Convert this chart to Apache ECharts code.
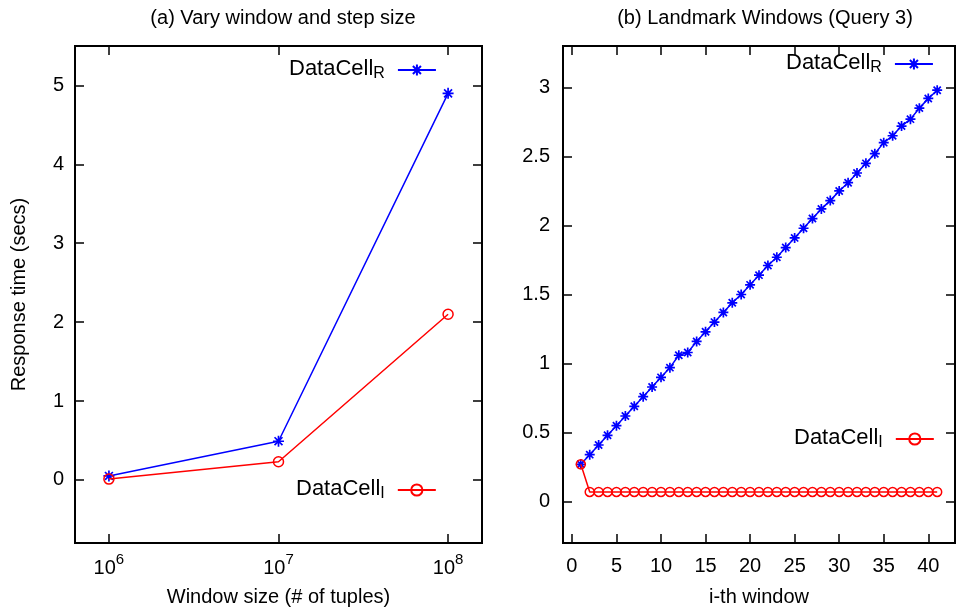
<!DOCTYPE html>
<html>
<head>
<meta charset="utf-8">
<script src="https://cdn.jsdelivr.net/npm/echarts@6/dist/echarts.min.js"></script>
<style>
  html, body { margin: 0; padding: 0; background: #fff; }
  #chart { width: 961px; height: 613px; }
</style>
</head>
<body>
<div id="chart"></div>
<script>
// (a) response time against window size
var windowSizes = [1e6, 1e7, 1e8];
var sizeR = [0.05, 0.49, 4.9];
var sizeI = [0.01, 0.23, 2.1];

// (b) landmark windows, query 3
var windowIdx = [1, 2, 3, 4, 5, 6, 7, 8, 9, 10, 11, 12, 13, 14, 15, 16, 17, 18, 19, 20,
                 21, 22, 23, 24, 25, 26, 27, 28, 29, 30, 31, 32, 33, 34, 35, 36, 37, 38, 39, 40, 41];
var landR = [0.27, 0.34, 0.41, 0.48, 0.55, 0.62, 0.69, 0.76, 0.83, 0.90,
             0.97, 1.06, 1.08, 1.16, 1.23, 1.30, 1.37, 1.44, 1.50, 1.57,
             1.64, 1.71, 1.77, 1.84, 1.91, 1.98, 2.05, 2.12, 2.18, 2.25,
             2.31, 2.38, 2.45, 2.52, 2.60, 2.65, 2.72, 2.77, 2.85, 2.92, 2.98];
var landI = [0.27, 0.07, 0.07, 0.07, 0.07, 0.07, 0.07, 0.07, 0.07, 0.07,
             0.07, 0.07, 0.07, 0.07, 0.07, 0.07, 0.07, 0.07, 0.07, 0.07,
             0.07, 0.07, 0.07, 0.07, 0.07, 0.07, 0.07, 0.07, 0.07, 0.07,
             0.07, 0.07, 0.07, 0.07, 0.07, 0.07, 0.07, 0.07, 0.07, 0.07, 0.07];

// tick labels
var yTicksA = [0, 1, 2, 3, 4, 5];
var xTicksB = [0, 5, 10, 15, 20, 25, 30, 35, 40];
var yTicksB = [0, 0.5, 1, 1.5, 2, 2.5, 3];

var FONT = 'Liberation Sans, Arial, Helvetica, sans-serif';
var BLUE = '#0000ff';
var RED = '#ff0000';
var STAR = 'path://M0,-1L0,1M-1,0L1,0M-0.72,-0.72L0.72,0.72M-0.72,0.72L0.72,-0.72';

function pair(xs, ys) {
  return xs.map(function (x, i) { return [x, ys[i]]; });
}

var tick = { show: true, inside: true, length: 9, lineStyle: { color: '#000', width: 1.5 } };
var line = { show: true, onZero: false, lineStyle: { color: '#000', width: 2 } };
var labelStyle = { color: '#000', fontFamily: FONT, fontSize: 20 };

function mirror(base) {
  return Object.assign({}, base, {
    axisLabel: { show: false },
    name: ''
  });
}

var logMin = Math.pow(10, 5.8), logMax = Math.pow(10, 8.2);

var xA = {
  type: 'log', gridIndex: 0, position: 'bottom', logBase: 10,
  min: logMin, max: logMax,
  axisLine: line, splitLine: { show: false }, minorTick: { show: false },
  axisTick: tick,
  axisLabel: Object.assign({}, labelStyle, {
    margin: 9,
    formatter: function (v) {
      var e = Math.log10(v);
      if (Math.abs(e - Math.round(e)) > 1e-6) return '';
      return '{b|10}{p|' + Math.round(e) + '}';
    },
    rich: {
      b: { fontFamily: FONT, fontSize: 20, lineHeight: 26, verticalAlign: 'bottom', color: '#000' },
      p: { fontFamily: FONT, fontSize: 15, lineHeight: 10, verticalAlign: 'top', color: '#000' }
    }
  }),
  name: 'Window size (# of tuples)', nameLocation: 'middle', nameGap: 44,
  nameTextStyle: { color: '#000', fontFamily: FONT, fontSize: 20 }
};
var yA = {
  type: 'value', gridIndex: 0, position: 'left', min: -0.8, max: 5.5,
  axisLine: line, splitLine: { show: false },
  axisTick: Object.assign({}, tick, { customValues: yTicksA }),
  axisLabel: Object.assign({}, labelStyle, { margin: 11, customValues: yTicksA }),
  name: 'Response time (secs)', nameLocation: 'middle', nameGap: 46, nameRotate: 90,
  nameTextStyle: { color: '#000', fontFamily: FONT, fontSize: 20 }
};
var xB = {
  type: 'value', gridIndex: 1, position: 'bottom', min: -1, max: 43,
  axisLine: line, splitLine: { show: false },
  axisTick: Object.assign({}, tick, { customValues: xTicksB }),
  axisLabel: Object.assign({}, labelStyle, { margin: 13, customValues: xTicksB }),
  name: 'i-th window', nameLocation: 'middle', nameGap: 44,
  nameTextStyle: { color: '#000', fontFamily: FONT, fontSize: 20 }
};
var yB = {
  type: 'value', gridIndex: 1, position: 'left', min: -0.3, max: 3.3,
  axisLine: line, splitLine: { show: false },
  axisTick: Object.assign({}, tick, { customValues: yTicksB }),
  axisLabel: Object.assign({}, labelStyle, { margin: 13, customValues: yTicksB })
};

function legendOf(seriesName, left, top) {
  return {
    data: [seriesName], left: left, top: top, align: 'right',
    itemWidth: 38, itemHeight: 14, selectedMode: false, padding: 0,
    formatter: function (n) {
      return '{m|DataCell}{s|' + (n.charAt(0) === 'R' ? 'R' : 'I') + '}';
    },
    textStyle: {
      color: '#000',
      rich: {
        m: { fontFamily: FONT, fontSize: 22, lineHeight: 24, verticalAlign: 'top', color: '#000' },
        s: { fontFamily: FONT, fontSize: 16, lineHeight: 12, verticalAlign: 'bottom', color: '#000', padding: [0, 8, 0, 0] }
      }
    }
  };
}

function starSeries(name, xi, yi, data, size) {
  return {
    name: name, type: 'line', xAxisIndex: xi, yAxisIndex: yi, data: data,
    symbol: STAR, symbolSize: size, showAllSymbol: true, clip: false,
    lineStyle: { color: BLUE, width: 1.5 },
    itemStyle: { color: BLUE, borderColor: BLUE, borderWidth: 1.7 },
    emphasis: { disabled: true }, animation: false, z: 3
  };
}
function circleSeries(name, xi, yi, data, size) {
  return {
    name: name, type: 'line', xAxisIndex: xi, yAxisIndex: yi, data: data,
    symbol: 'circle', symbolSize: size, showAllSymbol: true, clip: false,
    lineStyle: { color: RED, width: 1.5 },
    itemStyle: { color: 'rgba(255,255,255,0)', borderColor: RED, borderWidth: 1.5 },
    emphasis: { disabled: true }, animation: false, z: 4
  };
}

var chart = echarts.init(document.getElementById('chart'), null, { renderer: 'canvas' });
chart.setOption({
  backgroundColor: '#fff',
  animation: false,
  textStyle: { fontFamily: FONT },
  title: [
    { text: '(a) Vary window and step size', left: 278, top: 3, textAlign: 'center',
      textStyle: { fontFamily: FONT, fontSize: 20, fontWeight: 'normal', color: '#000' } },
    { text: '(b) Landmark Windows (Query 3)', left: 760, top: 3, textAlign: 'center',
      textStyle: { fontFamily: FONT, fontSize: 20, fontWeight: 'normal', color: '#000' } }
  ],
  grid: [
    { left: 75, top: 46, width: 407, height: 497, show: true, borderColor: '#000', borderWidth: 2, backgroundColor: 'transparent' },
    { left: 563, top: 46, width: 392, height: 497, show: true, borderColor: '#000', borderWidth: 2, backgroundColor: 'transparent' }
  ],
  xAxis: [
    xA, Object.assign(mirror(xA), { position: 'top' }),
    xB, Object.assign(mirror(xB), { position: 'top' })
  ],
  yAxis: [
    yA, Object.assign(mirror(yA), { position: 'right', nameRotate: null }),
    yB, Object.assign(mirror(yB), { position: 'right' })
  ],
  legend: [
    legendOf('R_a', 289, 58),
    legendOf('I_a', 296, 478),
    legendOf('R_b', 786, 52),
    legendOf('I_b', 794, 427)
  ],
  series: [
    starSeries('R_a', 0, 0, pair(windowSizes, sizeR), 11),
    circleSeries('I_a', 0, 0, pair(windowSizes, sizeI), 10),
    starSeries('R_b', 2, 2, pair(windowIdx, landR), 10),
    circleSeries('I_b', 2, 2, pair(windowIdx, landI), 9)
  ]
});
</script>
</body>
</html>
